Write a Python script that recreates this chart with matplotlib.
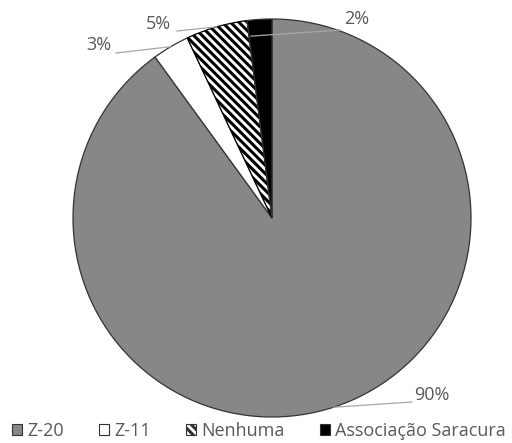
import matplotlib.pyplot as plt
import numpy as np
from matplotlib.patches import Patch

plt.rcParams['font.family'] = ['Open Sans', 'DejaVu Sans']
plt.rcParams['hatch.linewidth'] = 2.2

labels = ['Z-20', 'Z-11', 'Nenhuma', 'Associação Saracura']
values = [90, 3, 5, 2]
colors = ['#878787', '#ffffff', '#ffffff', '#000000']
hatches = [None, None, '\\\\\\\\', None]
pct_text = ['90%', '3%', '5%', '2%']

TXT = '#595959'
W, H = 512, 443
cx, cy, R = 272, H - 218, 199

fig = plt.figure(figsize=(W / 100, H / 100), dpi=100)
ax = fig.add_axes([0, 0, 1, 1])

wedges, _ = ax.pie(values, colors=colors, startangle=90, counterclock=False,
                   center=(cx, cy), radius=R, frame=True,
                   wedgeprops=dict(edgecolor='#333333', linewidth=0.9))
ax.set_xlim(0, W)
ax.set_ylim(0, H)
ax.set_aspect('equal')
ax.axis('off')
for w, h in zip(wedges, hatches):
    if h:
        w.set_hatch(h)
        w.set_edgecolor('black')

# label placement: text position (pixels from top-left), line end near text,
# and where on the wedge the leader line starts (angle fraction, radius fraction)
text_pos = [(414, 395), (86, 45), (146, 24), (344, 19)]
line_end = [(412, 402), (116, 53), (177, 31), (340, 30)]
anchor = [(0.5, 1.0), (0.5, 1.0), (0.5, 1.0), (0.92, 0.92)]

for w, txt, tp, le, (fa, fr) in zip(wedges, pct_text, text_pos, line_end, anchor):
    t1, t2 = w.theta1, w.theta2
    ang = np.deg2rad(t1 + (t2 - t1) * fa)
    px = cx + R * fr * np.cos(ang)
    py = cy + R * fr * np.sin(ang)
    ax.plot([px, le[0]], [py, H - le[1]], color='#a6a6a6', lw=0.9)
    ax.text(tp[0], H - tp[1], txt, ha='left', va='center', fontsize=13, color=TXT)

handles = [Patch(facecolor=c, edgecolor='#333333', hatch=h, linewidth=0.8)
           for c, h in zip(colors, hatches)]
fig.legend(handles, labels, loc='center', bbox_to_anchor=(259 / W, 12 / H), ncol=4,
           frameon=False, fontsize=13, labelcolor=TXT, handlelength=0.55,
           handleheight=0.55, handletextpad=0.3, columnspacing=1.95,
           borderpad=0, borderaxespad=0)

fig.savefig('out.png', dpi=100)
